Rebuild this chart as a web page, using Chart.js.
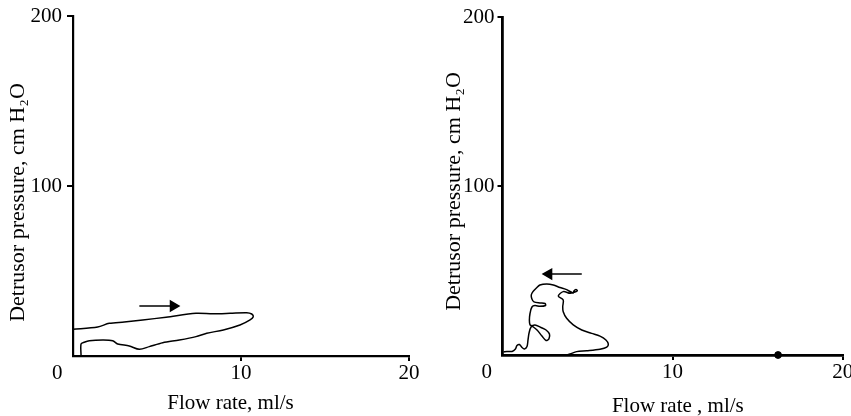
<!DOCTYPE html>
<html><head><meta charset="utf-8">
<script src="https://cdn.jsdelivr.net/npm/chart.js@4.4.1/dist/chart.umd.min.js"></script>
<style>
html,body{margin:0;padding:0;background:#fff;}
#wrap{position:relative;width:851px;height:416px;overflow:hidden;background:#fff;}
.box{position:absolute;top:0;height:416px;}
#b1{left:0;width:430px;}
#b2{left:430px;width:421px;}
</style></head><body>
<div id="wrap"><div class="box" id="b1"><canvas id="c1"></canvas></div><div class="box" id="b2"><canvas id="c2"></canvas></div></div>
<script>
// ---- data ----
const xTicks = [0, 10, 20];
const yTicks = [0, 100, 200];
const xTitleLeft = 'Flow rate, ml/s';
const xTitleRight = 'Flow rate , ml/s';
const yTitle = 'Detrusor pressure, cm H\u2082O';

const leftFlow = [0, 1.47, 2.16, 3.05, 4.15, 5.54, 7.32, 8.33, 9.35, 10.34, 10.64, 10.73, 10.54, 9.94, 8.95, 7.96, 7.32, 6.33, 5.34, 4.54, 3.95, 3.35, 2.66, 2.36, 1.77, 0.97, 0.67, 0.48, 0.48];
const leftPressure = [15.7, 17.1, 19.2, 20.0, 21.2, 22.8, 25.1, 24.8, 25.1, 25.5, 24.7, 23.1, 21.2, 18.2, 15.3, 13.4, 11.4, 9.4, 7.8, 5.5, 3.9, 5.9, 7.1, 9.0, 9.4, 9.0, 8.1, 7.1, 0];

const rightFlow = [3.77, 3.97, 4.36, 4.95, 5.73, 6.13, 6.22, 6.08, 5.73, 5.24, 4.66, 4.16, 3.77, 3.57, 3.54, 3.57, 3.28, 3.57, 3.97, 4.16, 4.40, 4.32, 4.20, 4.16, 3.73, 3.38, 2.99, 2.60, 2.20, 1.99, 1.79, 1.69, 1.73, 1.85, 2.20, 2.50, 2.53, 2.20, 1.91, 1.73, 1.62, 1.58, 1.62, 1.73, 2.03, 2.32, 2.56, 2.73, 2.76, 2.56, 2.26, 1.91, 1.68, 1.56, 1.50, 1.44, 1.29, 1.15, 1.00, 0.85, 0.76, 0.56, 0.26, 0.06];
const rightPressure = [0, 0.6, 2.0, 2.5, 3.4, 4.6, 6.5, 8.9, 11.2, 12.8, 14.8, 17.8, 21.7, 25.6, 28.6, 32.5, 34.9, 37.5, 36.5, 36.9, 38.0, 38.8, 37.9, 36.7, 38.8, 39.9, 41.4, 42.0, 41.4, 39.6, 37.5, 35.5, 33.1, 31.4, 30.8, 30.5, 29.3, 28.8, 29.3, 28.4, 24.7, 20.7, 17.8, 17.2, 14.8, 11.2, 8.6, 9.5, 12.4, 14.8, 16.3, 17.8, 16.6, 13.0, 8.9, 5.0, 3.6, 4.4, 6.2, 5.6, 3.6, 2.1, 2.1, 1.8];

const rightDotFlow = [16.2];
const rightDotPressure = [0];

const leftArrowFlow = [3.95, 5.97];
const leftArrowPressure = [29.4, 29.4];
const rightArrowFlow = [4.66, 2.72];
const rightArrowPressure = [47.9, 47.9];

// ---- helpers ----
const pts = (xs, ys) => xs.map((x, i) => ({x: x, y: ys[i]}));
Chart.defaults.color = '#000';
Chart.defaults.font.family = '"Liberation Serif", "Times New Roman", serif';

function makeChart(id, cfg) {
  const tickColor = c => (c.tick && c.tick.value === 0) ? 'rgba(0,0,0,0)' : '#000';
  const datasets = [
    {data: pts(cfg.flow, cfg.pressure), borderColor: '#000', borderWidth: 1.5, pointRadius: 0, showLine: true, tension: 0.3, clip: false},
    {data: pts(cfg.arrowFlow, cfg.arrowPressure), borderColor: '#000', backgroundColor: '#000', borderWidth: 1.6, showLine: true,
     pointRadius: [0, 5.5], pointStyle: 'triangle', rotation: [0, cfg.arrowRot], clip: false}
  ];
  if (cfg.dotFlow) {
    datasets.push({data: pts(cfg.dotFlow, cfg.dotPressure), backgroundColor: '#000', borderColor: '#000', pointRadius: 3.4, showLine: false, clip: false});
  }
  return new Chart(document.getElementById(id), {
    type: 'scatter',
    data: {datasets: datasets},
    options: {
      responsive: true, maintainAspectRatio: false, animation: false,
      events: [],
      layout: {padding: cfg.pad},
      plugins: {legend: {display: false}, tooltip: {enabled: false}},
      scales: {
        x: {
          type: 'linear', min: 0, max: 20,
          afterBuildTicks: s => { s.ticks = xTicks.map(v => ({value: v})); },
          afterFit: s => { s.height = cfg.xh; s.paddingLeft = 0; s.paddingRight = 0; },
          ticks: {autoSkip: false, maxRotation: 0, padding: 2, font: {size: 21, lineHeight: 1},
                  callback: v => v === 0 ? '0\u2002\u2002\u2002' : String(v)},
          grid: {drawOnChartArea: false, drawTicks: true, tickLength: 5, color: tickColor, tickColor: tickColor, lineWidth: 2, tickWidth: 2},
          border: {display: true, color: '#000', width: cfg.bw},
          title: {display: true, text: cfg.xTitle, font: {size: 21, lineHeight: cfg.xTitleLH}, padding: {top: 0, bottom: 0}}
        },
        y: {
          type: 'linear', min: 0, max: 200,
          afterBuildTicks: s => { s.ticks = yTicks.map(v => ({value: v})); },
          afterFit: s => { s.width = cfg.yw; s.paddingTop = 0; s.paddingBottom = 0; },
          ticks: {autoSkip: false, padding: cfg.yPad, font: {size: 21, lineHeight: 1},
                  callback: v => v === 0 ? '' : String(v)},
          grid: {drawOnChartArea: false, drawTicks: true, tickLength: cfg.yTick, color: tickColor, tickColor: tickColor, lineWidth: 2, tickWidth: 2},
          border: {display: true, color: '#000', width: cfg.bw},
          title: {display: true, text: cfg.yTitle, font: {size: 22, lineHeight: 1.1}, padding: {top: cfg.yTitlePad, bottom: 0}}
        }
      }
    }
  });
}

makeChart('c1', {
  flow: leftFlow, pressure: leftPressure,
  arrowFlow: leftArrowFlow, arrowPressure: leftArrowPressure, arrowRot: 90,
  pad: {left: 0, right: 21, top: 16, bottom: 0},
  xh: 60, yw: 73, bw: 2.2, yPad: 5, yTick: 6, yTitlePad: 6, xTitleLH: 1.15,
  xTitle: xTitleLeft + '\u2002\u2002',
  yTitle: yTitle + '\u2002\u2002\u2002'
});

makeChart('c2', {
  flow: rightFlow, pressure: rightPressure,
  arrowFlow: rightArrowFlow, arrowPressure: rightArrowPressure, arrowRot: -90,
  dotFlow: rightDotFlow, dotPressure: rightDotPressure,
  pad: {left: 0, right: 8.3, top: 17, bottom: 0},
  xh: 61, yw: 72.5, bw: 2.8, yPad: 3, yTick: 5, yTitlePad: 12, xTitleLH: 0.95,
  xTitle: '\u2002' + xTitleRight,
  yTitle: yTitle + '\u2002'
});
</script>
</body></html>
